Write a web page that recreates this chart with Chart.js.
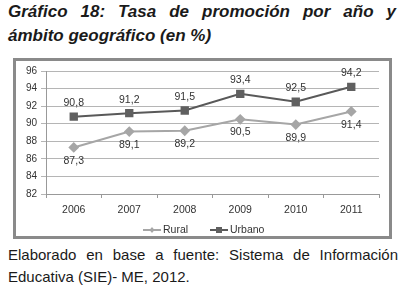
<!DOCTYPE html>
<html>
<head>
<meta charset="utf-8">
<script src="https://cdn.jsdelivr.net/npm/chart.js@4.4.1/dist/chart.umd.min.js"></script>
<style>
    html, body { margin: 0; padding: 0; background: #fff; }
    body { width: 405px; height: 294px; position: relative; overflow: hidden; font-family: Arial, "Liberation Sans", sans-serif; }
    .title {
        position: absolute; left: 8px; top: 0px; width: 388px;
        font-size: 17px; font-weight: bold; font-style: italic; line-height: 24px;
        color: #1a1a1a;
    }
    .title .l1 { display: block; text-align: justify; text-align-last: justify; }
    .box {
        position: absolute; left: 13px; top: 58px; width: 373px; height: 175px;
        border: 3px solid #8a8a8a;
    }
    .box canvas { position: absolute; left: 0; top: 0; }
    .note {
        position: absolute; left: 8px; top: 244px; width: 390px;
        font-size: 15px; line-height: 22px; color: #1a1a1a; text-align: justify;
    }
</style>
</head>
<body>
<div class="title"><span class="l1">Gráfico 18: Tasa de promoción por año y</span>ámbito geográfico (en %)</div>
<div class="box"><canvas id="chart" width="373" height="175"></canvas></div>
<div class="note">Elaborado en base a fuente: Sistema de Información Educativa (SIE)- ME, 2012.</div>
<script>
const years = ['2006', '2007', '2008', '2009', '2010', '2011'];
const rural = [87.3, 89.1, 89.2, 90.5, 89.9, 91.4];
const urbano = [90.8, 91.2, 91.5, 93.4, 92.5, 94.2];
const yTicks = [82, 84, 86, 88, 90, 92, 94, 96];

const fmt = (v) => v.toFixed(1).replace('.', ',');

// etiquetas de valor: Urbano arriba, Rural abajo
const valueLabels = {
    id: 'valueLabels',
    afterDatasetsDraw(chart) {
        const ctx = chart.ctx;
        ctx.save();
        ctx.font = '10.5px Arial, "Liberation Sans", sans-serif';
        ctx.fillStyle = '#333';
        ctx.textAlign = 'center';
        chart.data.datasets.forEach((ds, i) => {
            const meta = chart.getDatasetMeta(i);
            const above = ds.label === 'Urbano';
            meta.data.forEach((pt, j) => {
                ctx.textBaseline = above ? 'bottom' : 'top';
                const y = above ? pt.y - 8 : pt.y + 8;
                ctx.fillText(fmt(ds.data[j]), pt.x, y);
            });
        });
        ctx.restore();
    },
};

// leyenda con línea y marcador
const lineLegend = {
    id: 'lineLegend',
    afterDraw(chart) {
        const ctx = chart.ctx;
        const y = chart.height - 6;
        const items = [
            { ds: chart.data.datasets[0], x: 127 },
            { ds: chart.data.datasets[1], x: 194 },
        ];
        ctx.save();
        ctx.font = '10.5px Arial, "Liberation Sans", sans-serif';
        ctx.textBaseline = 'middle';
        ctx.textAlign = 'left';
        items.forEach(({ ds, x }) => {
            ctx.strokeStyle = ds.borderColor;
            ctx.lineWidth = 2;
            ctx.beginPath();
            ctx.moveTo(x, y);
            ctx.lineTo(x + 18, y);
            ctx.stroke();
            ctx.fillStyle = ds.pointBackgroundColor;
            const s = ds.label === 'Urbano' ? 3 : 2.5;
            ctx.beginPath();
            if (ds.label === 'Urbano') {
                ctx.rect(x + 9 - s, y - s, s * 2, s * 2);
            } else {
                ctx.moveTo(x + 9, y - s - 0.5);
                ctx.lineTo(x + 9 + s, y);
                ctx.lineTo(x + 9, y + s + 0.5);
                ctx.lineTo(x + 9 - s, y);
                ctx.closePath();
            }
            ctx.fill();
            ctx.fillStyle = '#333';
            ctx.fillText(ds.label, x + 20, y);
        });
        ctx.restore();
    },
};

new Chart(document.getElementById('chart'), {
    type: 'line',
    data: {
        labels: years,
        datasets: [
            {
                label: 'Rural',
                data: rural,
                borderColor: '#a6a6a6',
                backgroundColor: '#a6a6a6',
                pointBackgroundColor: '#a6a6a6',
                pointBorderColor: '#a6a6a6',
                pointStyle: 'rectRot',
                pointRadius: 4,
                borderWidth: 2,
                tension: 0,
            },
            {
                label: 'Urbano',
                data: urbano,
                borderColor: '#595959',
                backgroundColor: '#595959',
                pointBackgroundColor: '#606060',
                pointBorderColor: '#606060',
                pointStyle: 'rect',
                pointRadius: 4.5,
                borderWidth: 2,
                tension: 0,
            },
        ],
    },
    options: {
        responsive: false,
        animation: false,
        layout: { padding: { top: 8, right: 10, bottom: 22, left: 0 } },
        plugins: {
            legend: { display: false },
            tooltip: { enabled: false },
        },
        scales: {
            x: {
                offset: true,
                grid: { display: true, drawOnChartArea: false, offset: true, color: '#999', tickLength: 4 },
                border: { color: '#999' },
                ticks: { color: '#333', font: { size: 10.5, family: 'Arial' }, padding: 6 },
                afterFit: (s) => { s.height = 20; },
            },
            y: {
                min: 82,
                max: 96,
                afterBuildTicks: (s) => { s.ticks = yTicks.map((v) => ({ value: v })); },
                grid: { color: '#b5b5b5', tickLength: 5 },
                border: { color: '#999' },
                ticks: { color: '#333', font: { size: 10, family: 'Arial' }, padding: 4 },
                afterFit: (s) => { s.width = 30; },
            },
        },
    },
    plugins: [valueLabels, lineLegend],
});
</script>
</body>
</html>
